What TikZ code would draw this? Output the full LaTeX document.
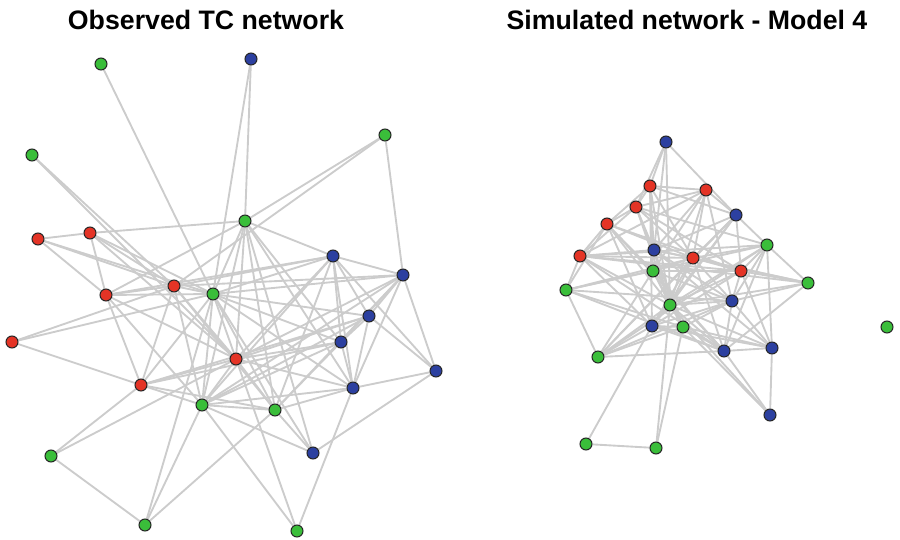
\documentclass[tikz,border=0pt]{standalone}
\usepackage{fontspec}
\setmainfont{Liberation Sans}
\usetikzlibrary{backgrounds}
\definecolor{nred}{RGB}{228,52,38}
\definecolor{ngreen}{RGB}{58,190,58}
\definecolor{nblue}{RGB}{44,64,160}
\definecolor{egray}{RGB}{204,204,204}
\tikzset{
  vtx/.style={circle, draw=black!85, line width=0.9pt, minimum size=3.6mm, inner sep=0pt},
  edge/.style={egray, line width=1.6pt},
  title/.style={font=\fontsize{22.8}{27}\selectfont\bfseries, anchor=base}
}
\begin{document}
\begin{tikzpicture}[x=0.3mm, y=-0.3mm]
	\useasboundingbox (0,0) rectangle (900,540);
	\node[title] (t1) at (206,29) {Observed TC network};
	\node[title] (t2) at (687,29) {Simulated network - Model 4};
	% observed network
	\foreach \n/\x/\y/\c in {o1/101/64/ngreen, o2/251/59/nblue, o3/385/135/ngreen, o4/32/155/ngreen,
		o5/245/221/ngreen, o6/38/239/nred, o7/90/233/nred, o8/333/256/nblue, o9/403/275/nblue,
		o10/106/295/nred, o11/174/286/nred, o12/213/294/ngreen, o13/369/316/nblue, o14/12/342/nred,
		o15/341/342/nblue, o16/236/359/nred, o17/436/371/nblue, o18/141/385/nred, o19/353/388/nblue,
		o20/202/405/ngreen, o21/275/410/ngreen, o22/313/453/nblue, o23/51/456/ngreen,
		o24/145/525/ngreen, o25/297/531/ngreen}
		\node[vtx, fill=\c] (\n) at (\x,\y) {};
	% simulated network
	\foreach \n/\x/\y/\c in {s1/666/142/nblue, s2/650/186/nred, s3/706/190/nred, s4/636/207/nred,
		s5/736/215/nblue, s6/607/224/nred, s7/767/245/ngreen, s8/654/250/nblue, s9/580/256/nred,
		s10/693/258/nred, s11/653/271/ngreen, s12/741/271/nred, s13/808/283/ngreen, s14/566/290/ngreen,
		s15/670/305/ngreen, s16/732/301/nblue, s17/652/326/nblue, s18/683/327/ngreen, s19/724/351/nblue,
		s20/772/348/nblue, s21/598/357/ngreen, s22/887/327/ngreen, s23/770/415/nblue,
		s24/586/444/ngreen, s25/656/448/ngreen}
		\node[vtx, fill=\c] (\n) at (\x,\y) {};
	\begin{pgfonlayer}{background}
		\foreach \a/\b in {o1/o12, o2/o5, o2/o12, o3/o5, o3/o11, o3/o9, o4/o11, o4/o16,
			o5/o7, o5/o8, o5/o12, o5/o16, o5/o21, o5/o15, o5/o19, o5/o10, o5/o20,
			o6/o7, o6/o12, o6/o11, o6/o10, o7/o10, o7/o11, o7/o12, o7/o16,
			o10/o11, o10/o12, o10/o18, o10/o20, o10/o16, o10/o8,
			o14/o11, o14/o12, o14/o18, o11/o12, o11/o8, o11/o9, o11/o20, o11/o16, o11/o21, o11/o18,
			o12/o8, o12/o9, o12/o13, o12/o15, o12/o19, o12/o16, o12/o18, o12/o20, o12/o21, o12/o24, o12/o22,
			o16/o15, o16/o13, o16/o9, o16/o18, o16/o20, o16/o21, o16/o19, o16/o25, o16/o8,
			o18/o20, o18/o21, o18/o15, o18/o13, o23/o18, o23/o16, o23/o24, o24/o20, o24/o21,
			o25/o20, o25/o19, o22/o20, o22/o21, o22/o17, o22/o5,
			o17/o9, o17/o8, o17/o19, o17/o13, o19/o8, o19/o13, o19/o9, o19/o21, o19/o20, o19/o15,
			o15/o8, o15/o13, o15/o21, o15/o20, o15/o9, o13/o8, o13/o9, o13/o20,
			o8/o9, o8/o21, o8/o20, o9/o21, o9/o20, o20/o21}
			\draw[edge] (\a) -- (\b);
		\foreach \a/\b in {s1/s2, s1/s5, s5/s7, s7/s13, s1/s8, s1/s15, s1/s4,
			s2/s3, s2/s4, s2/s6, s2/s8, s2/s15, s2/s11, s2/s10, s2/s17, s2/s5,
			s3/s5, s3/s4, s3/s10, s3/s15, s3/s8, s3/s9, s3/s11, s3/s16,
			s4/s6, s4/s9, s4/s10, s4/s15, s4/s8, s4/s12, s4/s18, s4/s7,
			s6/s9, s6/s14, s6/s10, s6/s15, s6/s11, s6/s17, s6/s12, s6/s19,
			s9/s14, s9/s10, s9/s12, s9/s15, s9/s17, s9/s19, s9/s13, s9/s8,
			s14/s21, s14/s11, s14/s10, s14/s16, s14/s18, s14/s19, s14/s7,
			s5/s10, s5/s15, s5/s8, s5/s12, s5/s21, s5/s17,
			s7/s10, s7/s12, s7/s15, s7/s16, s7/s19, s7/s20, s7/s9, s7/s21,
			s8/s10, s8/s15, s8/s16, s8/s18, s8/s13, s8/s20,
			s10/s12, s10/s13, s10/s15, s10/s16, s10/s17, s10/s21, s10/s19, s10/s11,
			s11/s15, s11/s16, s11/s18, s11/s19, s11/s12, s11/s21,
			s12/s13, s12/s16, s12/s15, s12/s17, s12/s20, s13/s19, s13/s16, s13/s15,
			s15/s17, s15/s18, s15/s19, s15/s20, s15/s21, s15/s16, s15/s25, s15/s23,
			s16/s19, s16/s20, s16/s18, s16/s17, s16/s21,
			s17/s18, s17/s21, s17/s24, s17/s20, s17/s19,
			s18/s19, s18/s21, s18/s25, s18/s23, s18/s20,
			s19/s20, s19/s21, s19/s23, s20/s23, s24/s25}
			\draw[edge] (\a) -- (\b);
	\end{pgfonlayer}
\end{tikzpicture}
\end{document}
